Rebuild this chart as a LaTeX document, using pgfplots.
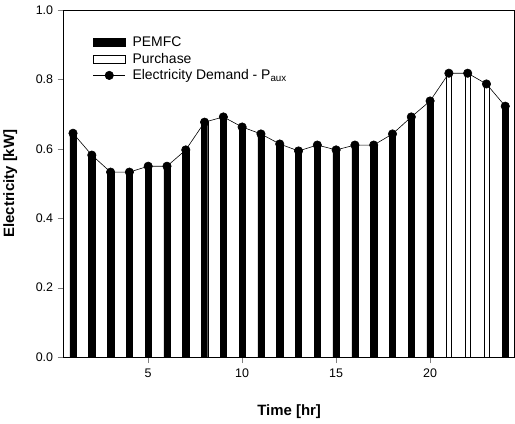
\documentclass[border=0pt]{standalone}
\usepackage{fontspec}
\setmainfont{Liberation Sans}
\usepackage{pgfplots}
\pgfplotsset{compat=1.18}
\pgfplotsset{
  boxlegend/.style={legend image code/.code={\draw[#1] (0bp,-4bp) rectangle (32bp,4bp);
    \path (37bp,0bp);}},
  linelegend/.style={legend image code/.code={\draw[#1,mark=none] (0bp,0bp) -- (32bp,0bp);
    \draw[#1,only marks] plot coordinates {(16bp,0bp)}; \path (37bp,0bp);}},
}

\begin{document}
\begin{tikzpicture}
\begin{axis}[
  scale only axis, width=451bp, height=347bp,
  xmin=0.5, xmax=24.5, ymin=0, ymax=1.0,
  xtick={5,10,15,20}, ytick={0,0.2,0.4,0.6,0.8,1.0},
  yticklabel style={xshift=-1bp, /pgf/number format/.cd, fixed, fixed zerofill, precision=1},
  /pgf/number format/assume math mode=true,
  tick align=outside, major tick length=6bp,
  xtick pos=bottom, ytick pos=left,
  tick label style={font=\fontsize{12.5}{14}\selectfont},
  xticklabel style={yshift=-2bp},
  label style={font=\fontsize{15}{17}\selectfont\bfseries},
  xlabel={Time [hr]}, ylabel={Electricity [kW]},
  xlabel style={at={(axis description cs:0.5,-0.128)}, anchor=north},
  ylabel style={at={(axis description cs:-0.095,0.5)}, anchor=south},
  axis line style={line width=0.7pt},
  legend style={at={(0.058,0.935)}, anchor=north west, draw=none, fill=none,
    font=\fontsize{14}{16}\selectfont, row sep=1bp},
  legend cell align=left,
  clip=false,
]
\addplot[ybar, bar width=6.3bp, bar shift=0pt, fill=black, draw=black, boxlegend]
  coordinates {(1,0.645)(2,0.582)(3,0.533)(4,0.533)(5,0.550)(6,0.550)(7,0.597)(8,0.677)
  (9,0.692)(10,0.663)(11,0.643)(12,0.614)(13,0.594)(14,0.611)(15,0.597)(16,0.611)
  (17,0.611)(18,0.643)(19,0.692)(20,0.738)(24,0.723)};
\addplot[ybar, bar width=4.8bp, bar shift=0pt, fill=white, draw=black, line width=0.6pt, boxlegend]
  coordinates {(21,0.818)(22,0.818)(23,0.787)};
\addplot[black, line width=0.6pt, mark=*, mark size=4.2bp, linelegend]
  coordinates {(1,0.645)(2,0.582)(3,0.533)(4,0.533)(5,0.550)(6,0.550)(7,0.597)(8,0.677)
  (9,0.692)(10,0.663)(11,0.643)(12,0.614)(13,0.594)(14,0.611)(15,0.597)(16,0.611)
  (17,0.611)(18,0.643)(19,0.692)(20,0.738)(21,0.818)(22,0.818)(23,0.787)(24,0.723)};
\legend{PEMFC, Purchase, Electricity Demand - P\textsubscript{aux}}
\path (axis description cs:1,-0.19) (axis description cs:1,1.029);
\end{axis}
\end{tikzpicture}
\end{document}
